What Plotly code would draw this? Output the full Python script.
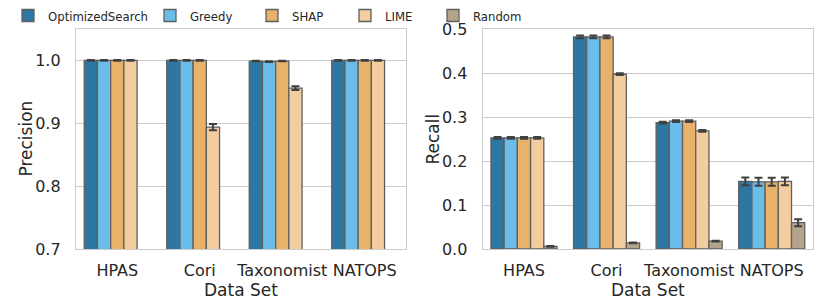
import plotly.graph_objects as go
from plotly.subplots import make_subplots

datasets = ["HPAS", "Cori", "Taxonomist", "NATOPS"]
methods = ["OptimizedSearch", "Greedy", "SHAP", "LIME", "Random"]
colors = ["#2e77a2", "#6bbde9", "#e9b26b", "#f3cd9f", "#b4a48c"]

precision = {
    "OptimizedSearch": [1.0, 1.0, 0.999, 1.0],
    "Greedy": [1.0, 1.0, 0.998, 1.0],
    "SHAP": [1.0, 1.0, 0.999, 1.0],
    "LIME": [1.0, 0.894, 0.956, 1.0],
    "Random": [None, None, None, None],
}
precision_err = {
    "OptimizedSearch": [0.0005, 0.0005, 0.0005, 0.0005],
    "Greedy": [0.0005, 0.0005, 0.0005, 0.0005],
    "SHAP": [0.0005, 0.0005, 0.0005, 0.0005],
    "LIME": [0.0005, 0.005, 0.003, 0.0005],
    "Random": [0, 0, 0, 0],
}
recall = {
    "OptimizedSearch": [0.253, 0.483, 0.288, 0.154],
    "Greedy": [0.253, 0.483, 0.291, 0.153],
    "SHAP": [0.253, 0.483, 0.291, 0.153],
    "LIME": [0.253, 0.398, 0.269, 0.154],
    "Random": [0.006, 0.014, 0.018, 0.060],
}
recall_err = {
    "OptimizedSearch": [0.002, 0.003, 0.002, 0.009],
    "Greedy": [0.002, 0.003, 0.002, 0.009],
    "SHAP": [0.002, 0.003, 0.002, 0.009],
    "LIME": [0.002, 0.002, 0.002, 0.009],
    "Random": [0.001, 0.001, 0.001, 0.008],
}

W, H = 822, 297
L, R, T, B = 68, 17, 20.5, 56
PW, PH = W - L - R, H - T - B

# legend entry left positions (px in figure)
legend_px = [0, 142, 244, 337, 425]
legend_ids = ["legend", "legend2", "legend3", "legend4", "legend5"]

fig = make_subplots(rows=1, cols=2)
fig.update_layout(xaxis=dict(domain=[0, 330 / PW]), xaxis2=dict(domain=[(474.7 - L) / PW, 1]))

edge = "#5f5f5f"
errc = "#404040"
for m, c, lid in zip(methods, colors, legend_ids):
    fig.add_trace(go.Bar(
        x=datasets, y=precision[m], name=m, legendgroup=m, legend=lid,
        marker=dict(color=c, line=dict(color=edge, width=1.3)),
        error_y=dict(type="data", array=precision_err[m], color=errc, thickness=2, width=4),
        showlegend=True,
    ), row=1, col=1)
for m, c in zip(methods, colors):
    fig.add_trace(go.Bar(
        x=datasets, y=recall[m], name=m, legendgroup=m,
        marker=dict(color=c, line=dict(color=edge, width=1.3)),
        error_y=dict(type="data", array=recall_err[m], color=errc, thickness=2, width=4),
        showlegend=False,
    ), row=1, col=2)

font_fam = "DejaVu Sans, Arial, sans-serif"
txt = "#262626"
grid = "#cccccc"

leg_font = dict(family="DejaVu Sans Condensed, DejaVu Sans", size=13, color=txt)
legends = {}
for lid, px in zip(legend_ids, legend_px):
    legends[lid] = dict(
        orientation="h", x=(px - L) / PW, xanchor="left",
        y=1 + (T + 8) / PH, yanchor="top",
        xref="paper", yref="paper", font=leg_font,
        bgcolor="rgba(0,0,0,0)", borderwidth=0,
    )

fig.update_layout(
    width=W, height=H,
    margin=dict(l=L, r=R, t=T, b=B, autoexpand=False),
    barmode="group", bargap=0.2, bargroupgap=0,
    plot_bgcolor="white", paper_bgcolor="white",
    font=dict(family=font_fam, size=16, color=txt),
    **legends,
)

fig.update_xaxes(
    automargin=False,
    showline=True, mirror=True, linecolor=grid, linewidth=1.3,
    showgrid=False, ticks="", ticklen=0, ticklabelstandoff=7,
    tickfont=dict(size=16, color=txt),
    title=dict(text="Data Set", font=dict(size=17, color=txt), standoff=2),
)
fig.update_yaxes(
    automargin=False,
    showline=True, mirror=True, linecolor=grid, linewidth=1.3,
    showgrid=True, gridcolor=grid, gridwidth=1.1, zeroline=False,
    ticks="", ticklen=0, ticklabelstandoff=11, tickformat=".1f",
    tickfont=dict(size=16, color=txt),
)
fig.update_yaxes(range=[0.7, 1.05], dtick=0.1, tick0=0.7, row=1, col=1)
fig.update_yaxes(range=[0, 0.501], dtick=0.1, tick0=0, row=1, col=2)

# y-axis titles
for text, px in [("Precision", 17.5), ("Recall", 424.5)]:
    fig.add_annotation(
        text=text, x=(px - L) / PW, y=0.5, xref="paper", yref="paper",
        xanchor="center", yanchor="middle", textangle=-90, showarrow=False,
        font=dict(size=17, color=txt),
    )

fig.write_html("out.html")
